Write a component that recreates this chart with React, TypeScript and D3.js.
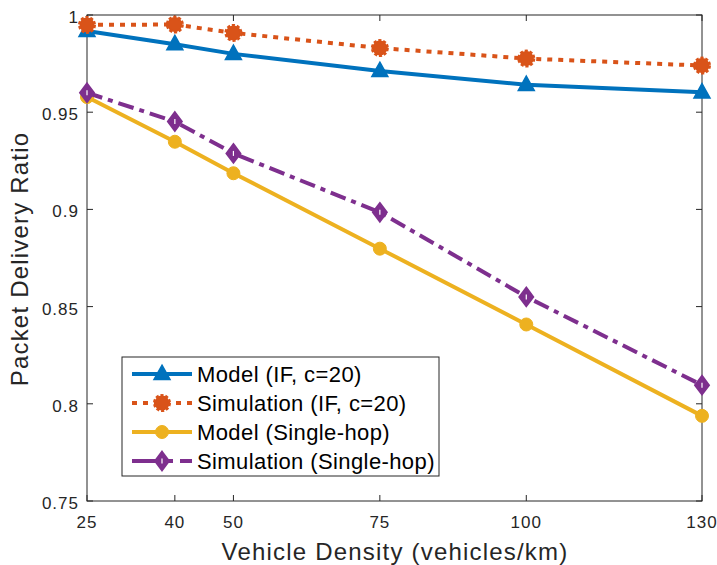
import React, { useEffect, useRef } from 'react';
import * as d3 from 'd3';

const density = [25, 40, 50, 75, 100, 130];
const modelIF = [0.9918, 0.985, 0.980, 0.9712, 0.9641, 0.9602];
const simIF = [0.9949, 0.9951, 0.9908, 0.9830, 0.9776, 0.9740];
const modelSingle = [0.9578, 0.9348, 0.9186, 0.8798, 0.8408, 0.7938];
const simSingle = [0.9600, 0.9452, 0.9288, 0.8985, 0.8550, 0.8096];
const xTicks = [25, 40, 50, 75, 100, 130];
const yTicks = [0.75, 0.8, 0.85, 0.9, 0.95, 1];
const legendLabels = ['Model (IF, c=20)', 'Simulation (IF, c=20)', 'Model (Single-hop)', 'Simulation (Single-hop)'];

const W = 717;
const H = 565;
const FONT = 'Liberation Sans, Arial, sans-serif';

const App = () => {
  const ref = useRef<SVGSVGElement | null>(null);

  useEffect(() => {
    if (!ref.current) return;
    const svg = d3.select(ref.current);
    svg.selectAll('*').remove();

    const left = 87, right = 702, top = 15, bottom = 501;
    const x = d3.scaleLinear().domain([25, 130]).range([left, right]);
    const y = d3.scaleLinear().domain([0.75, 1]).range([bottom, top]);
    const axisColor = '#262626';

    svg.append('rect').attr('width', W).attr('height', H).attr('fill', '#fff');

    // axis box + ticks
    const ax = svg.append('g');
    ax.append('rect')
      .attr('x', left).attr('y', top)
      .attr('width', right - left).attr('height', bottom - top)
      .attr('fill', 'none').attr('stroke', axisColor).attr('stroke-width', 1);

    xTicks.forEach(t => {
      ax.append('line').attr('x1', x(t)).attr('x2', x(t)).attr('y1', bottom).attr('y2', bottom - 6)
        .attr('stroke', axisColor);
      ax.append('line').attr('x1', x(t)).attr('x2', x(t)).attr('y1', top).attr('y2', top + 6)
        .attr('stroke', axisColor);
      ax.append('text').attr('x', x(t)).attr('y', bottom + 27)
        .attr('text-anchor', 'middle').attr('font-family', FONT).attr('font-size', 17)
        .attr('letter-spacing', 1).attr('fill', axisColor).text(t);
    });
    yTicks.forEach(t => {
      ax.append('line').attr('x1', left).attr('x2', left + 6).attr('y1', y(t)).attr('y2', y(t))
        .attr('stroke', axisColor);
      ax.append('line').attr('x1', right).attr('x2', right - 6).attr('y1', y(t)).attr('y2', y(t))
        .attr('stroke', axisColor);
      ax.append('text').attr('x', left - 8).attr('y', y(t) + 8)
        .attr('text-anchor', 'end').attr('font-family', FONT).attr('font-size', 17)
        .attr('letter-spacing', 1).attr('fill', axisColor).text(t);
    });

    ax.append('text').attr('x', 395).attr('y', 560)
      .attr('text-anchor', 'middle').attr('font-family', FONT).attr('font-size', 24)
      .attr('letter-spacing', 1.2).attr('fill', axisColor).text('Vehicle Density (vehicles/km)');
    ax.append('text')
      .attr('transform', `translate(28, 259) rotate(-90)`)
      .attr('text-anchor', 'middle').attr('font-family', FONT).attr('font-size', 24)
      .attr('letter-spacing', 1.2).attr('fill', axisColor).text('Packet Delivery Ratio');

    const line = d3.line<[number, number]>().x(d => x(d[0])).y(d => y(d[1]));

    const series = [
      { vals: modelIF, color: '#0072BD', dash: null as string | null, legendDash: null as string | null, marker: 'tri' },
      { vals: simIF, color: '#D95319', dash: '5,6', legendDash: '5,6', marker: 'star' },
      { vals: modelSingle, color: '#EDB120', dash: null, legendDash: null, marker: 'circle' },
      { vals: simSingle, color: '#7E2F8E', dash: '16,6,5,6', legendDash: '41,7,12,100', marker: 'diamond' },
    ];

    const drawMarker = (g: any, kind: string, cx: number, cy: number, color: string) => {
      if (kind === 'tri') {
        const s = 8;
        g.append('path')
          .attr('d', `M${cx},${cy - s * 1.1} L${cx + s},${cy + s * 0.7} L${cx - s},${cy + s * 0.7} Z`)
          .attr('fill', color).attr('stroke', color).attr('stroke-width', 1.5);
      } else if (kind === 'star') {
        g.append('circle').attr('cx', cx).attr('cy', cy).attr('r', 7.5)
          .attr('fill', color).attr('stroke', color).attr('stroke-width', 3)
          .attr('stroke-dasharray', '3,1.8');
      } else if (kind === 'circle') {
        g.append('circle').attr('cx', cx).attr('cy', cy).attr('r', 6.5)
          .attr('fill', color).attr('stroke', color).attr('stroke-width', 1);
      } else {
        g.append('path')
          .attr('d', `M${cx},${cy - 8} L${cx + 6},${cy} L${cx},${cy + 8} L${cx - 6},${cy} Z`)
          .attr('fill', color).attr('stroke', color).attr('stroke-width', 3.5)
          .attr('stroke-linejoin', 'miter');
        g.append('line').attr('x1', cx).attr('x2', cx).attr('y1', cy - 2.5).attr('y2', cy + 2.5)
          .attr('stroke', '#fff').attr('stroke-width', 1.2);
      }
    };

    const plot = svg.append('g');
    series.forEach(s => {
      const pts = density.map((d, i) => [d, s.vals[i]] as [number, number]);
      const p = plot.append('path').datum(pts)
        .attr('d', line).attr('fill', 'none')
        .attr('stroke', s.color).attr('stroke-width', 4);
      if (s.dash) p.attr('stroke-dasharray', s.dash);
      pts.forEach(pt => drawMarker(plot, s.marker, x(pt[0]), y(pt[1]), s.color));
    });

    // legend
    const lg = svg.append('g');
    lg.append('rect').attr('x', 122).attr('y', 357).attr('width', 317).attr('height', 119)
      .attr('fill', '#fff').attr('stroke', axisColor).attr('stroke-width', 1);
    series.forEach((s, i) => {
      const ly = 374 + i * 29;
      const l = lg.append('line').attr('x1', 132).attr('x2', 192).attr('y1', ly).attr('y2', ly)
        .attr('stroke', s.color).attr('stroke-width', 4);
      if (s.legendDash) l.attr('stroke-dasharray', s.legendDash);
      drawMarker(lg, s.marker, 162, ly, s.color);
      lg.append('text').attr('x', 197).attr('y', ly + 8)
        .attr('font-family', FONT).attr('font-size', 22).attr('letter-spacing', 0.4)
        .attr('fill', '#000').text(legendLabels[i]);
    });
  }, []);

  return <svg ref={ref} width={W} height={H} style={{ position: 'absolute', left: 0, top: 0 }}></svg>;
};

export default App;
